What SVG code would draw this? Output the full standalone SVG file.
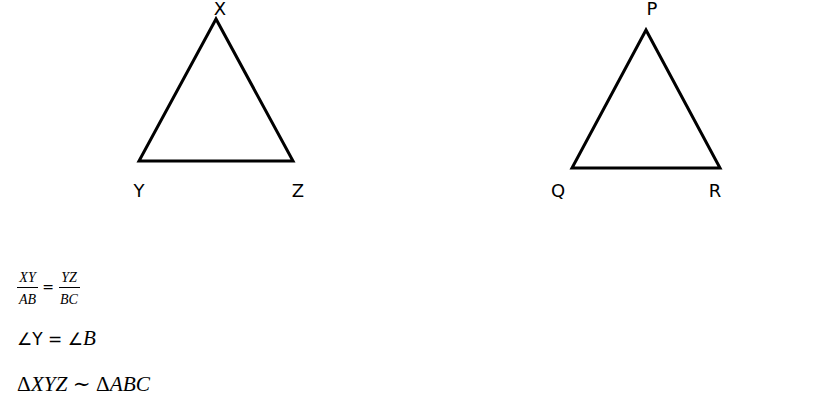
<svg xmlns="http://www.w3.org/2000/svg" width="823" height="408" viewBox="0 0 823 408">
<style>
.tri{fill:none;stroke:#000;stroke-width:3;stroke-linejoin:miter}
.lbl{font-family:"DejaVu Sans",sans-serif;font-size:18px;fill:#000}
.m{font-family:"Liberation Serif","DejaVu Serif",serif;font-style:italic;fill:#000}
.s{font-family:"DejaVu Sans",sans-serif;fill:#000}
</style>
<rect width="823" height="408" fill="#fff"/>
<g id="triangle-XYZ">
<polygon class="tri" points="216,19 139,161 293,161"/>
<text class="lbl" x="220" y="15" text-anchor="middle">X</text>
<text class="lbl" x="139" y="197" text-anchor="middle">Y</text>
<text class="lbl" x="298" y="197" text-anchor="middle">Z</text>
</g>
<g id="triangle-PQR">
<polygon class="tri" points="646,30 572,168 720,168"/>
<text class="lbl" x="652" y="15" text-anchor="middle">P</text>
<text class="lbl" x="558" y="197" text-anchor="middle">Q</text>
<text class="lbl" x="715" y="197" text-anchor="middle">R</text>
</g>
<g id="connectors"></g>
<g id="formulas">
<text class="m" x="27.5" y="282" font-size="14" text-anchor="middle">XY</text>
<line x1="17" y1="287.5" x2="38" y2="287.5" stroke="#000" stroke-width="1"/>
<text class="m" x="27.5" y="304" font-size="14" text-anchor="middle">AB</text>
<text class="s" x="48" y="292" font-size="14" text-anchor="middle">=</text>
<text class="m" x="69" y="282" font-size="14" text-anchor="middle">YZ</text>
<line x1="59" y1="287.5" x2="80" y2="287.5" stroke="#000" stroke-width="1"/>
<text class="m" x="69" y="304" font-size="14" text-anchor="middle">BC</text>
<text x="17" y="345" font-size="17"><tspan class="s">∠Y = ∠</tspan><tspan class="m" font-size="21">B</tspan></text>
<text class="m" x="17" y="391" font-size="21" textLength="133" lengthAdjust="spacingAndGlyphs"><tspan font-style="normal">Δ</tspan>XYZ ∼ <tspan font-style="normal">Δ</tspan>ABC</text>
</g>
</svg>
